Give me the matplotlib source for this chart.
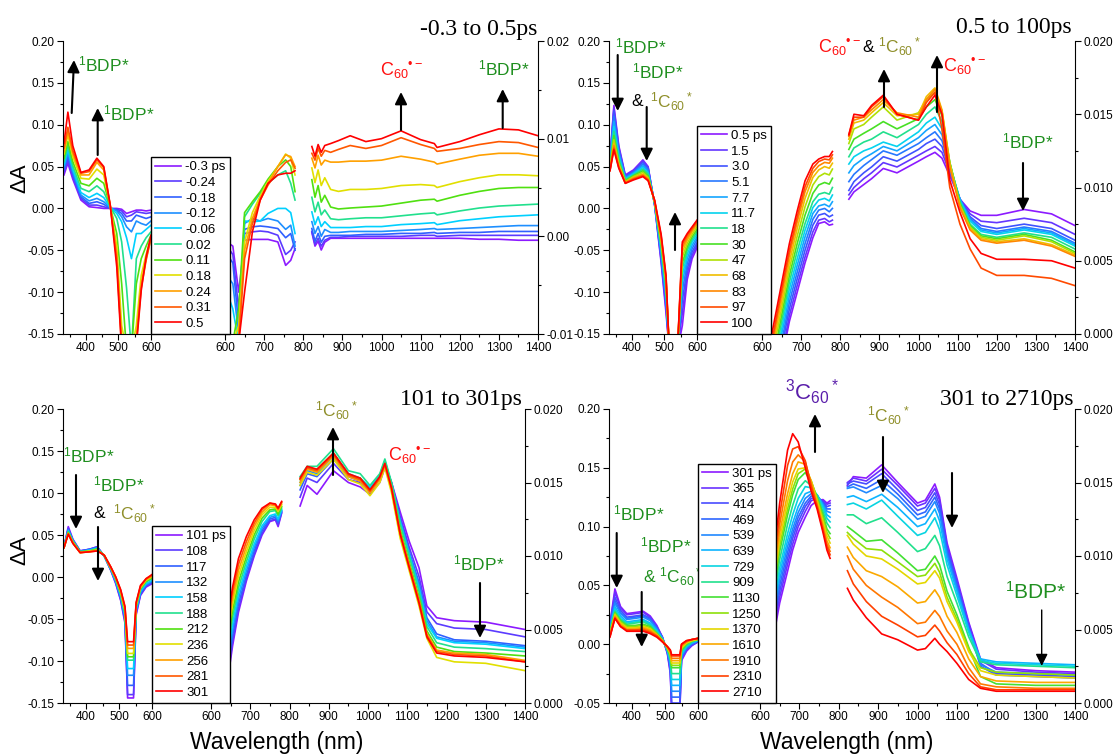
import numpy as np
import matplotlib
matplotlib.use('Agg')
import matplotlib.pyplot as plt
from matplotlib.colors import LinearSegmentedColormap
from matplotlib.patches import FancyArrowPatch
from matplotlib.ticker import FormatStrFormatter, MultipleLocator

W, H = 1113, 755

plt.rcParams['font.family'] = ['Liberation Sans', 'DejaVu Sans']
plt.rcParams['mathtext.fontset'] = 'custom'
plt.rcParams['mathtext.rm'] = 'Liberation Sans'
plt.rcParams['mathtext.it'] = 'Liberation Sans:italic'
plt.rcParams['mathtext.bf'] = 'Liberation Sans:bold'
plt.rcParams['mathtext.default'] = 'regular'
plt.rcParams['axes.unicode_minus'] = False

# ---------------- panel A: -0.3 to 0.5 ps ----------------
A_LABELS = ['-0.3 ps', '-0.24', '-0.18', '-0.12', '-0.06', '0.02', '0.11', '0.18', '0.24', '0.31', '0.5']
A_VIS_NM = [333, 345, 360, 385, 410, 434, 455, 475, 495, 510, 525, 540, 555, 570, 585, 600]
A_VIS = [
    [0.040, 0.054, 0.035, 0.010, 0.002, 0.001, 0.000, 0.000, 0.000, -0.001, -0.006, -0.004, -0.002, -0.002, -0.003, -0.002],
    [0.043, 0.058, 0.038, 0.012, 0.004, 0.004, 0.002, 0.000, -0.001, -0.003, -0.010, -0.008, -0.004, -0.005, -0.006, -0.005],
    [0.046, 0.062, 0.041, 0.014, 0.006, 0.008, 0.005, 0.000, -0.002, -0.006, -0.015, -0.015, -0.008, -0.010, -0.012, -0.010],
    [0.049, 0.066, 0.044, 0.016, 0.009, 0.012, 0.008, 0.001, -0.003, -0.010, -0.022, -0.028, -0.015, -0.018, -0.020, -0.015],
    [0.052, 0.070, 0.047, 0.019, 0.013, 0.018, 0.013, 0.001, -0.006, -0.016, -0.035, -0.060, -0.030, -0.030, -0.025, -0.020],
    [0.056, 0.075, 0.051, 0.024, 0.020, 0.027, 0.020, 0.002, -0.012, -0.040, -0.095, -0.170, -0.060, -0.045, -0.035, -0.028],
    [0.060, 0.080, 0.056, 0.030, 0.027, 0.036, 0.030, 0.002, -0.030, -0.090, -0.170, -0.170, -0.090, -0.060, -0.045, -0.032],
    [0.065, 0.088, 0.062, 0.036, 0.035, 0.047, 0.040, 0.003, -0.045, -0.140, -0.170, -0.170, -0.140, -0.080, -0.055, -0.035],
    [0.068, 0.092, 0.066, 0.040, 0.040, 0.055, 0.046, 0.003, -0.055, -0.160, -0.170, -0.170, -0.155, -0.090, -0.060, -0.036],
    [0.072, 0.097, 0.069, 0.042, 0.044, 0.058, 0.049, 0.003, -0.062, -0.165, -0.170, -0.170, -0.160, -0.095, -0.062, -0.035],
    [0.078, 0.115, 0.075, 0.043, 0.046, 0.060, 0.050, 0.004, -0.070, -0.170, -0.170, -0.170, -0.165, -0.098, -0.058, -0.032],
]
A_NV_NM = [605, 620, 635, 650, 670, 690, 710, 735, 755, 768, 779]
A_NV = [
    [-0.040, -0.045, -0.100, -0.038, -0.037, -0.037, -0.037, -0.040, -0.068, -0.062, -0.048],
    [-0.045, -0.055, -0.120, -0.030, -0.028, -0.027, -0.028, -0.032, -0.055, -0.050, -0.040],
    [-0.055, -0.065, -0.140, -0.025, -0.022, -0.021, -0.022, -0.024, -0.035, -0.030, -0.050],
    [-0.080, -0.090, -0.150, -0.018, -0.012, -0.015, -0.012, -0.015, -0.025, -0.020, -0.045],
    [-0.100, -0.120, -0.160, -0.015, -0.016, -0.015, -0.006, 0.000, 0.000, -0.005, -0.030],
    [-0.160, -0.160, -0.150, -0.010, 0.005, 0.018, 0.030, 0.040, 0.045, 0.030, 0.010],
    [-0.160, -0.160, -0.120, -0.005, 0.008, 0.020, 0.035, 0.050, 0.058, 0.050, 0.020],
    [-0.160, -0.160, -0.140, -0.040, -0.005, 0.015, 0.032, 0.050, 0.065, 0.060, 0.040],
    [-0.160, -0.160, -0.150, -0.050, -0.012, 0.012, 0.030, 0.050, 0.064, 0.062, 0.050],
    [-0.160, -0.160, -0.160, -0.060, -0.018, 0.010, 0.028, 0.045, 0.055, 0.058, 0.048],
    [-0.160, -0.160, -0.160, -0.100, -0.028, 0.010, 0.030, 0.040, 0.042, 0.042, 0.045],
]
A_NIR_NM = [822, 830, 838, 846, 855, 870, 890, 920, 960, 1000, 1050, 1100, 1135, 1142, 1200, 1250, 1300, 1350, 1400]
A_NIR = [
    [0.0004, -0.0010, -0.0005, -0.0014, -0.0006, -0.0002, -0.0002, -0.0002, -0.0002, -0.0002, -0.0002, -0.0002, -0.0002, -0.0002, -0.0002, -0.0003, -0.0003, -0.0004, -0.0004],
    [0.0005, -0.0008, -0.0002, -0.0010, -0.0004, -0.0001, -0.0001, 0.0000, 0.0000, 0.0000, 0.0000, 0.0001, 0.0001, 0.0000, 0.0001, 0.0001, 0.0001, 0.0001, 0.0001],
    [0.0008, -0.0005, 0.0003, -0.0006, 0.0000, 0.0001, 0.0001, 0.0001, 0.0002, 0.0002, 0.0003, 0.0003, 0.0004, 0.0003, 0.0004, 0.0004, 0.0005, 0.0005, 0.0005],
    [0.0015, 0.0003, 0.0010, 0.0000, 0.0007, 0.0004, 0.0004, 0.0005, 0.0005, 0.0005, 0.0006, 0.0007, 0.0008, 0.0007, 0.0008, 0.0009, 0.0010, 0.0011, 0.0011],
    [0.0025, 0.0012, 0.0020, 0.0010, 0.0015, 0.0009, 0.0009, 0.0009, 0.0010, 0.0010, 0.0012, 0.0013, 0.0014, 0.0012, 0.0016, 0.0018, 0.0020, 0.0021, 0.0022],
    [0.0040, 0.0025, 0.0035, 0.0022, 0.0027, 0.0018, 0.0017, 0.0018, 0.0019, 0.0019, 0.0021, 0.0023, 0.0024, 0.0022, 0.0026, 0.0029, 0.0031, 0.0032, 0.0033],
    [0.0058, 0.0040, 0.0052, 0.0035, 0.0042, 0.0030, 0.0028, 0.0029, 0.0030, 0.0031, 0.0034, 0.0037, 0.0038, 0.0036, 0.0042, 0.0046, 0.0049, 0.0050, 0.0050],
    [0.0070, 0.0055, 0.0068, 0.0052, 0.0060, 0.0048, 0.0046, 0.0048, 0.0048, 0.0049, 0.0052, 0.0053, 0.0052, 0.0050, 0.0056, 0.0060, 0.0063, 0.0063, 0.0062],
    [0.0080, 0.0070, 0.0083, 0.0073, 0.0078, 0.0076, 0.0076, 0.0077, 0.0077, 0.0078, 0.0082, 0.0079, 0.0076, 0.0074, 0.0079, 0.0083, 0.0085, 0.0085, 0.0082],
    [0.0085, 0.0078, 0.0090, 0.0082, 0.0088, 0.0086, 0.0089, 0.0093, 0.0090, 0.0093, 0.0101, 0.0094, 0.0090, 0.0087, 0.0090, 0.0094, 0.0097, 0.0096, 0.0091],
    [0.0092, 0.0082, 0.0094, 0.0086, 0.0093, 0.0095, 0.0098, 0.0103, 0.0097, 0.0100, 0.0108, 0.0099, 0.0095, 0.0091, 0.0097, 0.0104, 0.0110, 0.0109, 0.0103],
]

# ---------------- panel B: 0.5 to 100 ps ----------------
B_LABELS = ['0.5 ps', '1.5', '3.0', '5.1', '7.7', '11.7', '18', '30', '47', '68', '83', '97', '100']
B_VIS_NM = [333, 345, 360, 380, 405, 434, 450, 470, 490, 505, 515, 540, 555, 570, 585, 600]
B_VIS = [
    [0.060, 0.123, 0.075, 0.040, 0.046, 0.058, 0.050, 0.004, -0.065, -0.125, -0.170, -0.170, -0.140, -0.085, -0.060, -0.047],
    [0.059, 0.120, 0.073, 0.039, 0.045, 0.057, 0.049, 0.004, -0.062, -0.120, -0.170, -0.170, -0.125, -0.078, -0.056, -0.044],
    [0.058, 0.116, 0.071, 0.038, 0.044, 0.055, 0.048, 0.005, -0.059, -0.115, -0.170, -0.170, -0.110, -0.072, -0.052, -0.041],
    [0.056, 0.110, 0.068, 0.037, 0.043, 0.053, 0.046, 0.005, -0.056, -0.110, -0.170, -0.170, -0.098, -0.066, -0.048, -0.037],
    [0.054, 0.104, 0.065, 0.036, 0.042, 0.051, 0.044, 0.006, -0.052, -0.105, -0.170, -0.170, -0.088, -0.060, -0.044, -0.034],
    [0.052, 0.098, 0.062, 0.035, 0.041, 0.049, 0.042, 0.006, -0.049, -0.100, -0.170, -0.170, -0.080, -0.055, -0.040, -0.031],
    [0.050, 0.092, 0.059, 0.034, 0.040, 0.047, 0.041, 0.007, -0.046, -0.096, -0.170, -0.170, -0.072, -0.050, -0.037, -0.028],
    [0.049, 0.087, 0.056, 0.033, 0.039, 0.045, 0.039, 0.007, -0.043, -0.092, -0.170, -0.170, -0.065, -0.046, -0.034, -0.025],
    [0.048, 0.082, 0.054, 0.032, 0.038, 0.043, 0.037, 0.008, -0.040, -0.089, -0.170, -0.170, -0.058, -0.042, -0.031, -0.022],
    [0.047, 0.078, 0.052, 0.031, 0.037, 0.041, 0.036, 0.008, -0.037, -0.086, -0.170, -0.170, -0.052, -0.038, -0.028, -0.019],
    [0.046, 0.075, 0.050, 0.031, 0.036, 0.040, 0.035, 0.009, -0.035, -0.084, -0.170, -0.170, -0.047, -0.035, -0.026, -0.017],
    [0.045, 0.072, 0.049, 0.030, 0.035, 0.039, 0.034, 0.009, -0.033, -0.082, -0.170, -0.170, -0.043, -0.032, -0.024, -0.015],
    [0.045, 0.070, 0.048, 0.030, 0.034, 0.038, 0.033, 0.010, -0.031, -0.080, -0.170, -0.170, -0.040, -0.030, -0.022, -0.014],
]
B_NV_NM = [610, 625, 640, 655, 670, 690, 710, 730, 745, 760, 772, 780]
B_NV = [
    [-0.170, -0.170, -0.170, -0.170, -0.135, -0.100, -0.065, -0.035, -0.018, -0.016, -0.020, -0.019],
    [-0.170, -0.170, -0.170, -0.165, -0.128, -0.092, -0.058, -0.028, -0.014, -0.012, -0.016, -0.014],
    [-0.170, -0.170, -0.170, -0.155, -0.120, -0.084, -0.050, -0.020, -0.008, -0.006, -0.010, -0.008],
    [-0.170, -0.170, -0.170, -0.148, -0.112, -0.076, -0.042, -0.013, -0.002, 0.000, -0.004, 0.000],
    [-0.170, -0.170, -0.170, -0.140, -0.104, -0.068, -0.034, -0.006, 0.003, 0.005, 0.002, 0.008],
    [-0.170, -0.170, -0.170, -0.132, -0.096, -0.060, -0.026, 0.001, 0.010, 0.012, 0.009, 0.016],
    [-0.170, -0.170, -0.160, -0.124, -0.088, -0.051, -0.018, 0.008, 0.017, 0.019, 0.017, 0.025],
    [-0.170, -0.170, -0.152, -0.116, -0.080, -0.042, -0.008, 0.018, 0.028, 0.031, 0.029, 0.036],
    [-0.170, -0.170, -0.144, -0.108, -0.072, -0.033, 0.002, 0.028, 0.038, 0.042, 0.040, 0.047],
    [-0.170, -0.170, -0.136, -0.100, -0.064, -0.024, 0.012, 0.037, 0.046, 0.050, 0.048, 0.054],
    [-0.170, -0.165, -0.128, -0.092, -0.056, -0.016, 0.020, 0.043, 0.051, 0.055, 0.054, 0.060],
    [-0.170, -0.160, -0.122, -0.086, -0.050, -0.010, 0.026, 0.048, 0.056, 0.059, 0.058, 0.064],
    [-0.170, -0.150, -0.114, -0.078, -0.042, -0.003, 0.033, 0.053, 0.059, 0.062, 0.062, 0.068],
]
B_NIR_NM = [822, 835, 860, 880, 910, 945, 1000, 1020, 1042, 1060, 1080, 1106, 1132, 1160, 1200, 1270, 1340, 1400]
B_NIR = [
    [0.0092, 0.0097, 0.0102, 0.0106, 0.0113, 0.0110, 0.0118, 0.0121, 0.0124, 0.0120, 0.0108, 0.0092, 0.0084, 0.0081, 0.0081, 0.0085, 0.0082, 0.0074],
    [0.0095, 0.0100, 0.0106, 0.0110, 0.0117, 0.0114, 0.0122, 0.0125, 0.0128, 0.0124, 0.0110, 0.0092, 0.0082, 0.0077, 0.0076, 0.0079, 0.0076, 0.0068],
    [0.0098, 0.0104, 0.0110, 0.0114, 0.0121, 0.0118, 0.0126, 0.0130, 0.0133, 0.0128, 0.0112, 0.0092, 0.0080, 0.0074, 0.0072, 0.0075, 0.0072, 0.0064],
    [0.0104, 0.0109, 0.0115, 0.0119, 0.0125, 0.0122, 0.0130, 0.0134, 0.0138, 0.0132, 0.0114, 0.0092, 0.0079, 0.0072, 0.0070, 0.0073, 0.0070, 0.0062],
    [0.0110, 0.0115, 0.0120, 0.0123, 0.0128, 0.0125, 0.0134, 0.0139, 0.0143, 0.0136, 0.0115, 0.0092, 0.0078, 0.0071, 0.0069, 0.0072, 0.0069, 0.0061],
    [0.0116, 0.0121, 0.0125, 0.0127, 0.0131, 0.0128, 0.0138, 0.0144, 0.0148, 0.0140, 0.0116, 0.0091, 0.0077, 0.0070, 0.0068, 0.0071, 0.0068, 0.0060],
    [0.0121, 0.0127, 0.0131, 0.0133, 0.0138, 0.0134, 0.0143, 0.0150, 0.0155, 0.0145, 0.0117, 0.0090, 0.0075, 0.0068, 0.0066, 0.0069, 0.0066, 0.0058],
    [0.0126, 0.0133, 0.0137, 0.0140, 0.0145, 0.0140, 0.0147, 0.0155, 0.0160, 0.0149, 0.0117, 0.0089, 0.0074, 0.0067, 0.0065, 0.0068, 0.0064, 0.0056],
    [0.0130, 0.0140, 0.0143, 0.0148, 0.0155, 0.0146, 0.0151, 0.0160, 0.0165, 0.0152, 0.0117, 0.0088, 0.0073, 0.0066, 0.0064, 0.0067, 0.0063, 0.0055],
    [0.0133, 0.0144, 0.0146, 0.0151, 0.0158, 0.0149, 0.0150, 0.0162, 0.0168, 0.0153, 0.0116, 0.0087, 0.0072, 0.0065, 0.0063, 0.0065, 0.0061, 0.0054],
    [0.0135, 0.0146, 0.0148, 0.0153, 0.0160, 0.0151, 0.0148, 0.0160, 0.0167, 0.0152, 0.0114, 0.0086, 0.0071, 0.0064, 0.0062, 0.0064, 0.0060, 0.0053],
    [0.0136, 0.0148, 0.0148, 0.0155, 0.0162, 0.0150, 0.0146, 0.0158, 0.0165, 0.0140, 0.0100, 0.0075, 0.0058, 0.0045, 0.0040, 0.0040, 0.0038, 0.0033],
    [0.0136, 0.0150, 0.0149, 0.0156, 0.0163, 0.0150, 0.0146, 0.0155, 0.0163, 0.0150, 0.0105, 0.0083, 0.0065, 0.0055, 0.0051, 0.0051, 0.0050, 0.0045],
]

# ---------------- panel C: 101 to 301 ps ----------------
C_LABELS = ['101 ps', '108', '117', '132', '158', '188', '212', '236', '256', '281', '301']
C_VIS_NM = [333, 346, 360, 382, 410, 434, 455, 475, 490, 505, 518, 526, 544, 552, 565, 582, 600]
C_VIS = [
    [0.036, 0.060, 0.045, 0.031, 0.033, 0.036, 0.025, 0.008, -0.008, -0.028, -0.055, -0.144, -0.144, -0.045, -0.022, -0.012, -0.008],
    [0.036, 0.058, 0.044, 0.031, 0.033, 0.036, 0.025, 0.008, -0.007, -0.027, -0.053, -0.140, -0.140, -0.043, -0.021, -0.011, -0.007],
    [0.036, 0.057, 0.044, 0.031, 0.033, 0.035, 0.025, 0.009, -0.006, -0.025, -0.050, -0.129, -0.129, -0.041, -0.020, -0.010, -0.006],
    [0.035, 0.056, 0.043, 0.030, 0.032, 0.035, 0.025, 0.009, -0.005, -0.024, -0.048, -0.117, -0.117, -0.039, -0.018, -0.009, -0.005],
    [0.035, 0.055, 0.043, 0.030, 0.032, 0.034, 0.025, 0.010, -0.004, -0.022, -0.046, -0.109, -0.109, -0.038, -0.017, -0.008, -0.004],
    [0.035, 0.054, 0.042, 0.030, 0.031, 0.034, 0.025, 0.010, -0.003, -0.021, -0.044, -0.099, -0.099, -0.036, -0.015, -0.006, -0.002],
    [0.035, 0.053, 0.042, 0.030, 0.031, 0.033, 0.026, 0.011, -0.002, -0.019, -0.042, -0.095, -0.095, -0.035, -0.014, -0.005, -0.001],
    [0.035, 0.052, 0.041, 0.029, 0.031, 0.032, 0.026, 0.011, -0.001, -0.018, -0.040, -0.091, -0.091, -0.033, -0.013, -0.004, 0.000],
    [0.035, 0.052, 0.041, 0.029, 0.030, 0.032, 0.026, 0.011, -0.001, -0.017, -0.038, -0.085, -0.085, -0.032, -0.012, -0.003, 0.001],
    [0.035, 0.051, 0.040, 0.029, 0.030, 0.031, 0.026, 0.012, 0.000, -0.016, -0.036, -0.081, -0.081, -0.031, -0.011, -0.002, 0.002],
    [0.035, 0.051, 0.040, 0.029, 0.030, 0.031, 0.026, 0.012, 0.000, -0.015, -0.035, -0.077, -0.077, -0.030, -0.010, -0.002, 0.003],
]
C_NV_NM = [640, 655, 670, 690, 710, 730, 750, 764, 771, 780]
C_NV = [
    [-0.131, -0.082, -0.042, -0.005, 0.025, 0.050, 0.066, 0.068, 0.060, 0.076],
    [-0.125, -0.077, -0.038, -0.002, 0.027, 0.052, 0.067, 0.069, 0.062, 0.077],
    [-0.118, -0.070, -0.032, 0.002, 0.031, 0.055, 0.069, 0.071, 0.065, 0.078],
    [-0.110, -0.063, -0.026, 0.007, 0.035, 0.058, 0.071, 0.073, 0.067, 0.079],
    [-0.102, -0.056, -0.020, 0.012, 0.039, 0.061, 0.073, 0.075, 0.069, 0.080],
    [-0.093, -0.048, -0.013, 0.018, 0.045, 0.066, 0.078, 0.079, 0.073, 0.082],
    [-0.085, -0.040, -0.006, 0.024, 0.050, 0.070, 0.080, 0.081, 0.075, 0.084],
    [-0.077, -0.032, 0.001, 0.030, 0.055, 0.074, 0.083, 0.083, 0.078, 0.086],
    [-0.070, -0.025, 0.008, 0.036, 0.060, 0.077, 0.086, 0.085, 0.080, 0.088],
    [-0.064, -0.018, 0.015, 0.042, 0.064, 0.080, 0.088, 0.086, 0.081, 0.089],
    [-0.058, -0.012, 0.022, 0.048, 0.068, 0.082, 0.088, 0.087, 0.082, 0.090],
]
C_NIR_NM = [827, 845, 870, 912, 950, 980, 1005, 1030, 1043, 1060, 1082, 1105, 1130, 1150, 1175, 1220, 1300, 1400]
C_NIR = [
    [0.0134, 0.0148, 0.0142, 0.0158, 0.0150, 0.0147, 0.0142, 0.0150, 0.0160, 0.0150, 0.0130, 0.0110, 0.0092, 0.0066, 0.0058, 0.0056, 0.0055, 0.0050],
    [0.0140, 0.0153, 0.0150, 0.0163, 0.0152, 0.0150, 0.0144, 0.0153, 0.0163, 0.0150, 0.0127, 0.0106, 0.0086, 0.0062, 0.0054, 0.0051, 0.0050, 0.0045],
    [0.0145, 0.0156, 0.0154, 0.0166, 0.0154, 0.0151, 0.0145, 0.0154, 0.0164, 0.0149, 0.0125, 0.0103, 0.0082, 0.0058, 0.0047, 0.0043, 0.0042, 0.0039],
    [0.0148, 0.0158, 0.0156, 0.0168, 0.0155, 0.0152, 0.0146, 0.0155, 0.0164, 0.0149, 0.0124, 0.0102, 0.0080, 0.0056, 0.0045, 0.0042, 0.0041, 0.0038],
    [0.0150, 0.0159, 0.0158, 0.0170, 0.0156, 0.0153, 0.0147, 0.0155, 0.0165, 0.0149, 0.0123, 0.0101, 0.0078, 0.0054, 0.0044, 0.0041, 0.0040, 0.0037],
    [0.0154, 0.0161, 0.0161, 0.0173, 0.0158, 0.0156, 0.0148, 0.0156, 0.0166, 0.0150, 0.0122, 0.0100, 0.0076, 0.0052, 0.0041, 0.0038, 0.0037, 0.0035],
    [0.0152, 0.0160, 0.0159, 0.0170, 0.0155, 0.0153, 0.0145, 0.0153, 0.0163, 0.0147, 0.0118, 0.0096, 0.0072, 0.0049, 0.0038, 0.0035, 0.0034, 0.0032],
    [0.0148, 0.0157, 0.0155, 0.0166, 0.0152, 0.0149, 0.0141, 0.0150, 0.0160, 0.0143, 0.0112, 0.0090, 0.0066, 0.0044, 0.0031, 0.0028, 0.0027, 0.0022],
    [0.0150, 0.0159, 0.0157, 0.0168, 0.0154, 0.0151, 0.0143, 0.0152, 0.0162, 0.0146, 0.0116, 0.0094, 0.0070, 0.0047, 0.0036, 0.0034, 0.0033, 0.0029],
    [0.0152, 0.0160, 0.0158, 0.0169, 0.0155, 0.0152, 0.0144, 0.0153, 0.0162, 0.0146, 0.0115, 0.0093, 0.0069, 0.0046, 0.0035, 0.0033, 0.0032, 0.0028],
    [0.0153, 0.0161, 0.0159, 0.0170, 0.0156, 0.0153, 0.0145, 0.0154, 0.0163, 0.0146, 0.0115, 0.0092, 0.0068, 0.0045, 0.0034, 0.0032, 0.0031, 0.0028],
]

# ---------------- panel D: 301 to 2710 ps ----------------
D_LABELS = ['301 ps', '365', '414', '469', '539', '639', '729', '909', '1130', '1250', '1370', '1610', '1910', '2310', '2710']
D_VIS_NM = [333, 348, 365, 384, 410, 434, 455, 475, 492, 507, 516, 520, 545, 550, 565, 582, 600]
D_VIS = [
    [0.018, 0.047, 0.032, 0.026, 0.027, 0.028, 0.024, 0.016, 0.006, -0.008, -0.025, -0.055, -0.055, -0.014, -0.006, -0.001, 0.002],
    [0.017, 0.044, 0.031, 0.025, 0.026, 0.027, 0.023, 0.015, 0.006, -0.007, -0.023, -0.055, -0.055, -0.013, -0.005, -0.001, 0.002],
    [0.016, 0.040, 0.029, 0.023, 0.024, 0.025, 0.022, 0.014, 0.006, -0.007, -0.021, -0.050, -0.050, -0.012, -0.004, 0.000, 0.002],
    [0.015, 0.037, 0.027, 0.022, 0.023, 0.024, 0.021, 0.014, 0.005, -0.006, -0.019, -0.045, -0.045, -0.011, -0.004, 0.000, 0.003],
    [0.014, 0.035, 0.026, 0.021, 0.022, 0.023, 0.020, 0.013, 0.005, -0.006, -0.017, -0.040, -0.040, -0.010, -0.003, 0.001, 0.003],
    [0.013, 0.032, 0.024, 0.019, 0.020, 0.021, 0.018, 0.012, 0.005, -0.005, -0.015, -0.035, -0.035, -0.009, -0.002, 0.001, 0.003],
    [0.012, 0.030, 0.022, 0.018, 0.019, 0.020, 0.017, 0.011, 0.004, -0.005, -0.013, -0.030, -0.030, -0.008, -0.002, 0.002, 0.003],
    [0.011, 0.028, 0.021, 0.017, 0.018, 0.019, 0.016, 0.010, 0.004, -0.004, -0.011, -0.025, -0.025, -0.006, -0.001, 0.002, 0.004],
    [0.010, 0.027, 0.020, 0.016, 0.016, 0.017, 0.015, 0.009, 0.004, -0.004, -0.010, -0.020, -0.020, -0.005, 0.000, 0.003, 0.004],
    [0.009, 0.026, 0.019, 0.015, 0.015, 0.016, 0.014, 0.009, 0.003, -0.003, -0.009, -0.018, -0.018, -0.004, 0.001, 0.003, 0.004],
    [0.009, 0.025, 0.018, 0.014, 0.014, 0.015, 0.013, 0.008, 0.003, -0.003, -0.008, -0.016, -0.016, -0.003, 0.001, 0.003, 0.004],
    [0.008, 0.024, 0.017, 0.013, 0.013, 0.014, 0.012, 0.008, 0.003, -0.003, -0.007, -0.014, -0.014, -0.002, 0.002, 0.004, 0.005],
    [0.007, 0.023, 0.016, 0.012, 0.012, 0.013, 0.011, 0.007, 0.003, -0.002, -0.006, -0.012, -0.012, -0.001, 0.002, 0.004, 0.005],
    [0.007, 0.022, 0.015, 0.012, 0.012, 0.012, 0.010, 0.007, 0.002, -0.002, -0.005, -0.010, -0.010, 0.000, 0.003, 0.004, 0.005],
    [0.006, 0.022, 0.015, 0.011, 0.011, 0.011, 0.009, 0.006, 0.002, -0.002, -0.005, -0.009, -0.009, 0.000, 0.003, 0.004, 0.005],
]
D_NV_NM = [630, 650, 670, 683, 697, 715, 730, 745, 760, 770, 778]
D_NV = [
    [-0.002, 0.035, 0.062, 0.080, 0.095, 0.108, 0.118, 0.122, 0.123, 0.120, 0.122],
    [0.004, 0.040, 0.068, 0.085, 0.100, 0.113, 0.122, 0.124, 0.122, 0.119, 0.120],
    [0.008, 0.045, 0.073, 0.090, 0.104, 0.117, 0.124, 0.125, 0.121, 0.117, 0.118],
    [0.012, 0.050, 0.078, 0.094, 0.108, 0.120, 0.126, 0.126, 0.120, 0.115, 0.115],
    [0.016, 0.055, 0.083, 0.098, 0.112, 0.124, 0.128, 0.127, 0.119, 0.113, 0.112],
    [0.020, 0.060, 0.088, 0.103, 0.117, 0.128, 0.130, 0.127, 0.118, 0.110, 0.108],
    [0.024, 0.065, 0.094, 0.110, 0.124, 0.134, 0.133, 0.127, 0.116, 0.107, 0.104],
    [0.029, 0.072, 0.102, 0.118, 0.132, 0.139, 0.135, 0.126, 0.113, 0.103, 0.099],
    [0.034, 0.079, 0.110, 0.127, 0.140, 0.146, 0.138, 0.125, 0.110, 0.098, 0.094],
    [0.038, 0.084, 0.115, 0.132, 0.145, 0.149, 0.139, 0.124, 0.107, 0.095, 0.090],
    [0.042, 0.089, 0.121, 0.138, 0.149, 0.150, 0.139, 0.122, 0.104, 0.092, 0.086],
    [0.046, 0.095, 0.128, 0.145, 0.155, 0.153, 0.138, 0.120, 0.101, 0.088, 0.082],
    [0.051, 0.102, 0.139, 0.155, 0.161, 0.155, 0.136, 0.118, 0.099, 0.085, 0.079],
    [0.057, 0.110, 0.152, 0.166, 0.168, 0.156, 0.134, 0.117, 0.097, 0.083, 0.076],
    [0.063, 0.120, 0.165, 0.179, 0.172, 0.150, 0.130, 0.115, 0.095, 0.080, 0.073],
]
D_NIR_NM = [822, 837, 870, 909, 950, 1000, 1020, 1044, 1056, 1075, 1100, 1130, 1160, 1200, 1300, 1400]
D_NIR = [
    [0.0148, 0.0154, 0.0153, 0.0162, 0.0150, 0.0136, 0.0138, 0.0149, 0.0140, 0.0109, 0.0085, 0.0055, 0.0030, 0.0024, 0.0022, 0.0021],
    [0.0150, 0.0153, 0.0151, 0.0159, 0.0148, 0.0134, 0.0136, 0.0146, 0.0138, 0.0107, 0.0083, 0.0054, 0.0029, 0.0023, 0.0021, 0.0020],
    [0.0149, 0.0151, 0.0149, 0.0156, 0.0145, 0.0131, 0.0133, 0.0143, 0.0135, 0.0105, 0.0082, 0.0052, 0.0027, 0.0020, 0.0019, 0.0018],
    [0.0147, 0.0149, 0.0146, 0.0152, 0.0142, 0.0128, 0.0130, 0.0140, 0.0132, 0.0103, 0.0080, 0.0051, 0.0025, 0.0019, 0.0018, 0.0017],
    [0.0146, 0.0147, 0.0143, 0.0148, 0.0139, 0.0125, 0.0127, 0.0137, 0.0129, 0.0101, 0.0078, 0.0050, 0.0026, 0.0021, 0.0020, 0.0019],
    [0.0140, 0.0141, 0.0137, 0.0142, 0.0133, 0.0120, 0.0122, 0.0132, 0.0124, 0.0098, 0.0076, 0.0050, 0.0030, 0.0028, 0.0027, 0.0026],
    [0.0135, 0.0136, 0.0132, 0.0138, 0.0127, 0.0114, 0.0116, 0.0126, 0.0118, 0.0094, 0.0073, 0.0048, 0.0029, 0.0027, 0.0026, 0.0025],
    [0.0128, 0.0128, 0.0122, 0.0126, 0.0116, 0.0103, 0.0105, 0.0114, 0.0107, 0.0086, 0.0068, 0.0045, 0.0028, 0.0026, 0.0025, 0.0024],
    [0.0120, 0.0117, 0.0110, 0.0111, 0.0102, 0.0090, 0.0091, 0.0100, 0.0094, 0.0076, 0.0060, 0.0038, 0.0018, 0.0013, 0.0012, 0.0012],
    [0.0116, 0.0112, 0.0105, 0.0104, 0.0096, 0.0086, 0.0087, 0.0095, 0.0089, 0.0072, 0.0057, 0.0037, 0.0024, 0.0021, 0.0020, 0.0019],
    [0.0114, 0.0108, 0.0100, 0.0098, 0.0091, 0.0081, 0.0082, 0.0090, 0.0085, 0.0069, 0.0055, 0.0035, 0.0022, 0.0019, 0.0018, 0.0017],
    [0.0106, 0.0099, 0.0090, 0.0086, 0.0079, 0.0068, 0.0069, 0.0077, 0.0072, 0.0059, 0.0048, 0.0030, 0.0018, 0.0015, 0.0014, 0.0014],
    [0.0100, 0.0091, 0.0080, 0.0072, 0.0065, 0.0054, 0.0055, 0.0063, 0.0059, 0.0049, 0.0040, 0.0024, 0.0013, 0.0011, 0.0010, 0.0010],
    [0.0090, 0.0081, 0.0069, 0.0059, 0.0053, 0.0045, 0.0046, 0.0053, 0.0049, 0.0041, 0.0033, 0.0020, 0.0011, 0.0009, 0.0009, 0.0009],
    [0.0078, 0.0070, 0.0058, 0.0047, 0.0043, 0.0036, 0.0037, 0.0044, 0.0040, 0.0035, 0.0027, 0.0016, 0.0010, 0.0008, 0.0008, 0.0008],
]

# origin-like rainbow, violet -> red
CMAP = LinearSegmentedColormap.from_list('origin_rainbow', [
    '#8c1aff', '#5a3cff', '#3060ff', '#1e90ff', '#00d0ff', '#20e090',
    '#50e010', '#e0e000', '#ffa000', '#ff5a00', '#ff0000'])

GREEN = '#1f8f1f'
OLIVE = '#8f8f2a'
RED = '#ff1010'
PURPLE = '#5a1eaa'

BDP = '$^1$BDP*'
C60R = 'C$_{60}$$^{\u2022-}$'
C60S = '$^1$C$_{60}$$^*$'
C60T = '$^3$C$_{60}$$^*$'

fig = plt.figure(figsize=(W / 100, H / 100), dpi=100)


def box(x0, x1, ytop, ybot):
    return [x0 / W, 1 - ybot / H, (x1 - x0) / W, (ybot - ytop) / H]


def style_ticks(ax, **kw):
    ax.tick_params(which='major', direction='out', length=4, width=0.8, labelsize=8.5, pad=2, **kw)
    ax.tick_params(which='minor', direction='out', length=2.5, width=0.8, **kw)


def draw_panel(vis_px, nir_px, leg_px, labels, vis_nm, vis, nv_nm, nv, nir_nm, nir,
               vis_ylim, r_ylim, r_step, r_fmt):
    cols = CMAP(np.linspace(0, 1, len(labels)))
    ax_v = fig.add_axes(box(*vis_px))
    ax_n = fig.add_axes(box(*nir_px))
    ax_r = ax_n.twinx()
    handles = []
    for c, yv, yn, yr in zip(cols, vis, nv, nir):
        ln, = ax_v.plot(vis_nm, yv, color=c, lw=1.2)
        ax_n.plot(nv_nm, yn, color=c, lw=1.2)
        ax_r.plot(nir_nm, yr, color=c, lw=1.2)
        handles.append(ln)

    for ax in (ax_v, ax_n, ax_r):
        ax.patch.set_visible(False)
        for s in ax.spines.values():
            s.set_linewidth(0.8)

    ax_v.set_xlim(330, 600)
    ax_v.set_ylim(*vis_ylim)
    ax_v.xaxis.set_major_locator(MultipleLocator(100))
    ax_v.xaxis.set_minor_locator(MultipleLocator(50))
    ax_v.yaxis.set_major_locator(MultipleLocator(0.05))
    ax_v.yaxis.set_minor_locator(MultipleLocator(0.025))
    ax_v.yaxis.set_major_formatter(FormatStrFormatter('%.2f'))
    ax_v.spines[['top', 'right']].set_visible(False)
    style_ticks(ax_v)

    ax_n.set_xlim(600, 1400)
    ax_n.set_ylim(*vis_ylim)
    ax_n.xaxis.set_major_locator(MultipleLocator(100))
    ax_n.xaxis.set_minor_locator(MultipleLocator(50))
    ax_n.set_yticks([])
    ax_n.spines[['top', 'right', 'left']].set_visible(False)
    style_ticks(ax_n)

    ax_r.set_ylim(*r_ylim)
    ax_r.yaxis.set_major_locator(MultipleLocator(r_step))
    ax_r.yaxis.set_minor_locator(MultipleLocator(r_step / 2))
    ax_r.yaxis.set_major_formatter(FormatStrFormatter(r_fmt))
    ax_r.spines[['top', 'left', 'bottom']].set_visible(False)
    style_ticks(ax_r)

    leg = fig.legend(handles, labels, loc='lower left',
                     bbox_to_anchor=(leg_px[0] / W, 1 - leg_px[1] / H),
                     frameon=True, fancybox=False, framealpha=1, edgecolor='black',
                     borderaxespad=0, borderpad=0.3, fontsize=9.5, handlelength=2.0,
                     handletextpad=0.3, labelspacing=0.26)
    leg.get_frame().set_linewidth(1.0)
    return ax_v, ax_n, ax_r


def label(x, y, s, color, size=12.5, ha='left'):
    fig.text(x / W, 1 - y / H, s, color=color, fontsize=size, ha=ha, va='center')


def arrow(x0, y0, x1, y1, lw=1.5):
    fig.add_artist(FancyArrowPatch((x0 / W, 1 - y0 / H), (x1 / W, 1 - y1 / H),
                                   transform=fig.transFigure,
                                   arrowstyle='-|>,head_length=0.6,head_width=0.3',
                                   mutation_scale=12, color='black', lw=lw,
                                   shrinkA=0, shrinkB=0))


def title(x, y, s):
    fig.text(x / W, 1 - y / H, s, fontsize=17, ha='right', va='baseline',
             family='Liberation Serif')


draw_panel((63, 151, 41, 334), (225, 538, 41, 334), (151, 334), A_LABELS,
           A_VIS_NM, A_VIS, A_NV_NM, A_NV, A_NIR_NM, A_NIR,
           (-0.15, 0.20), (-0.01, 0.02), 0.01, '%.2f')
draw_panel((609, 697, 41, 334), (762, 1075, 41, 334), (697, 334), B_LABELS,
           B_VIS_NM, B_VIS, B_NV_NM, B_NV, B_NIR_NM, B_NIR,
           (-0.15, 0.20), (0.0, 0.020), 0.005, '%.3f')
draw_panel((63, 152, 409, 703), (211, 525, 409, 703), (152, 703), C_LABELS,
           C_VIS_NM, C_VIS, C_NV_NM, C_NV, C_NIR_NM, C_NIR,
           (-0.15, 0.20), (0.0, 0.020), 0.005, '%.3f')
draw_panel((609, 698, 409, 703), (760, 1075, 409, 703), (698, 703), D_LABELS,
           D_VIS_NM, D_VIS, D_NV_NM, D_NV, D_NIR_NM, D_NIR,
           (-0.05, 0.20), (0.0, 0.020), 0.005, '%.3f')

# axis labels
fig.text(20 / W, 1 - 178 / H, '\u0394A', rotation=90, fontsize=16, ha='center', va='center')
fig.text(20 / W, 1 - 550 / H, '\u0394A', rotation=90, fontsize=16, ha='center', va='center')
fig.text(277 / W, 1 - 743 / H, 'Wavelength (nm)', fontsize=16.5, ha='center', va='center')
fig.text(847 / W, 1 - 743 / H, 'Wavelength (nm)', fontsize=16.5, ha='center', va='center')

# titles
title(537, 35, '-0.3 to 0.5ps')
title(1072, 33, '0.5 to 100ps')
title(522, 405, '101 to 301ps')
title(1073, 405, '301 to 2710ps')

# panel A annotations
label(78, 64, BDP, GREEN)
arrow(71.7, 113, 74, 60)
label(103, 113, BDP, GREEN)
arrow(97.7, 155, 97.7, 108)
label(380, 70, C60R, RED, 13)
arrow(401, 130, 401, 92)
label(478, 68, BDP, GREEN)
arrow(502.7, 128, 502.7, 89)

# panel B annotations
label(615, 46, BDP, GREEN)
arrow(617.7, 55, 617.7, 111)
label(632, 71, BDP, GREEN)
label(631, 102, '&', 'black')
label(650, 102, C60S, OLIVE)
arrow(646.7, 107, 646.7, 161)
arrow(675, 250, 675, 212)
label(818, 47, C60R, RED, 13)
label(862, 47, '&', 'black')
label(878, 47, C60S, OLIVE)
arrow(884, 107, 884, 69)
label(943, 66, C60R, RED, 13)
arrow(937, 112, 937, 55)
label(1002, 141, BDP, GREEN)
arrow(1023, 163, 1023, 211)

# panel C annotations
label(63, 455, BDP, GREEN)
arrow(76, 475, 76, 529)
label(93, 484, BDP, GREEN)
label(93, 514, '&', 'black')
label(113, 514, C60S, OLIVE)
arrow(98, 527, 98, 581)
label(315, 411, C60S, OLIVE)
arrow(333, 475, 333, 427)
label(388, 455, C60R, RED, 13)
label(453, 563, BDP, GREEN)
arrow(480, 583, 480, 638)

# panel D annotations
label(785, 392, C60T, PURPLE, 16)
arrow(815, 452, 815, 414)
label(613, 513, BDP, GREEN)
arrow(616.7, 533, 616.7, 588)
label(640, 545, BDP, GREEN)
label(643, 577, '& ' + C60S, GREEN)
arrow(641.7, 592, 641.7, 647)
label(867, 416, C60S, OLIVE)
arrow(883, 437, 883, 493)
arrow(952, 473, 952, 528)
label(1005, 592, BDP, GREEN, 15)
arrow(1041.7, 610, 1041.7, 666, lw=1.0)

fig.savefig('out.png', dpi=100)
